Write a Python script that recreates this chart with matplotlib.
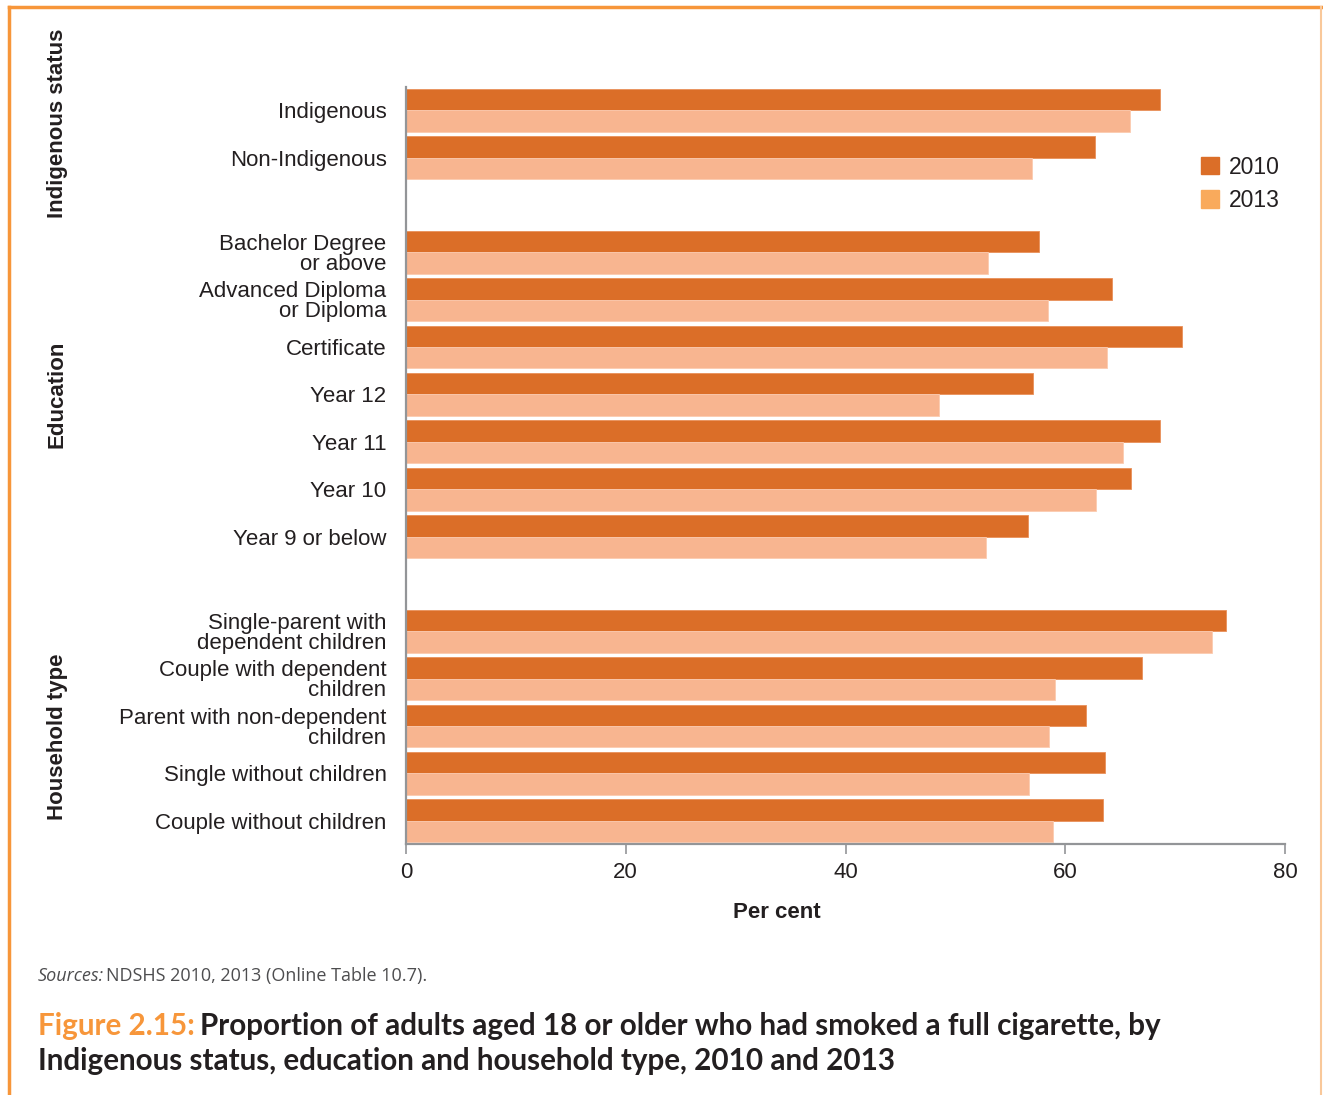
import matplotlib.pyplot as plt
from matplotlib.patches import Patch
from matplotlib.lines import Line2D

labels = ["Indigenous", "Non-Indigenous", "",
          "Bachelor Degree\nor above", "Advanced Diploma\nor Diploma", "Certificate",
          "Year 12", "Year 11", "Year 10", "Year 9 or below", "",
          "Single-parent with\ndependent children", "Couple with dependent\nchildren",
          "Parent with non-dependent\nchildren", "Single without children",
          "Couple without children"]
vals_2010 = [68.6, 62.7, None, 57.6, 64.3, 70.6, 57.1, 68.6, 66.0, 56.6, None,
             74.6, 67.0, 61.9, 63.6, 63.4]
vals_2013 = [65.9, 57.0, None, 53.0, 58.4, 63.8, 48.5, 65.3, 62.8, 52.8, None,
             73.4, 59.1, 58.5, 56.7, 58.9]
groups = [("Indigenous status", 0.27), ("Education", 6), ("Household type", 13.23)]

c2010 = "#DB6E28"
c2013 = "#F8B590"
plt.rcParams['font.family'] = ['Liberation Sans', 'DejaVu Sans']

fig = plt.figure(figsize=(13.23, 10.95), dpi=100)
ax = fig.add_axes([406 / 1323, 1 - 844 / 1095, 879 / 1323, 757 / 1095])

h = 0.45
for i, (a, b) in enumerate(zip(vals_2010, vals_2013)):
    if a is None:
        continue
    ax.barh(i - h / 2, a, height=h, color=c2010, edgecolor="#E9905A", linewidth=0.6)
    ax.barh(i + h / 2, b, height=h, color=c2013, edgecolor="#FBCBB0", linewidth=0.6)

ax.set_ylim(15.45 + 0.04, -0.45 - 0.04)
ax.set_xlim(0, 80)
ax.set_yticks([i for i, l in enumerate(labels) if l])
ax.set_yticklabels([l for l in labels if l], fontsize=16, color="#231F20",
                   linespacing=0.95)
ax.tick_params(axis="y", length=0, pad=14)
ax.set_xticks([0, 20, 40, 60, 80])
ax.tick_params(axis="x", length=7, width=1.2, color="#939598", labelsize=16,
               labelcolor="#231F20", pad=6)
for s in ["top", "right"]:
    ax.spines[s].set_visible(False)
for s in ["left", "bottom"]:
    ax.spines[s].set_color("#939598")
    ax.spines[s].set_linewidth(1.6)
ax.set_xlabel("Per cent", fontsize=16, fontweight="bold", color="#231F20")
ax.xaxis.set_label_coords((777 - 406) / 879, -0.076)

for name, ypos in groups:
    yfig = ax.transData.transform((0, ypos))[1] / fig.dpi / 10.95
    fig.text(57 / 1323, yfig, name, rotation=90, ha="center", va="center",
             fontsize=16, fontweight="bold", color="#231F20")

handles = [Patch(color=c2010, label="2010"), Patch(color="#F9AA5C", label="2013")]
fig.legend(handles=handles, loc="upper left", bbox_to_anchor=(1180 / 1323, 1 - 135 / 1095),
           frameon=False, fontsize=16.5, handlelength=0.8, handleheight=0.8,
           handletextpad=0.45, labelspacing=0.45, labelcolor="#231F20")

orange = "#F7963A"
fig.add_artist(Line2D([9 / 1323, 9 / 1323], [0, 1 - 7 / 1095], color=orange, lw=2.5,
                      transform=fig.transFigure))
fig.add_artist(Line2D([9 / 1323, 1321 / 1323], [1 - 7 / 1095, 1 - 7 / 1095], color=orange,
                      lw=2.5, transform=fig.transFigure))
fig.add_artist(Line2D([1321 / 1323, 1321 / 1323], [0, 1 - 7 / 1095], color="#F9C89A", lw=1.5,
                      transform=fig.transFigure))

fig.text(38 / 1323, 1 - 976 / 1095, "Sources:", fontsize=13, style="italic",
         color="#4D4D4F", va="center", family=["Open Sans", "DejaVu Sans"])
fig.text(106 / 1323, 1 - 976 / 1095, "NDSHS 2010, 2013 (Online Table 10.7).", fontsize=13,
         color="#4D4D4F", va="center", family=["Open Sans", "DejaVu Sans"])
fig.text(38 / 1323, 1 - 1026 / 1095, "Figure 2.15:", fontsize=21.3, fontweight="bold",
         color=orange, va="center", family=["Lato", "DejaVu Sans"])
fig.text(200 / 1323, 1 - 1026 / 1095,
         "Proportion of adults aged 18 or older who had smoked a full cigarette, by",
         fontsize=21.3, fontweight="bold", color="#231F20", va="center",
         family=["Lato", "DejaVu Sans"])
fig.text(38 / 1323, 1 - 1061 / 1095,
         "Indigenous status, education and household type, 2010 and 2013",
         fontsize=21.3, fontweight="bold", color="#231F20", va="center",
         family=["Lato", "DejaVu Sans"])

fig.savefig("out.png", dpi=100)
